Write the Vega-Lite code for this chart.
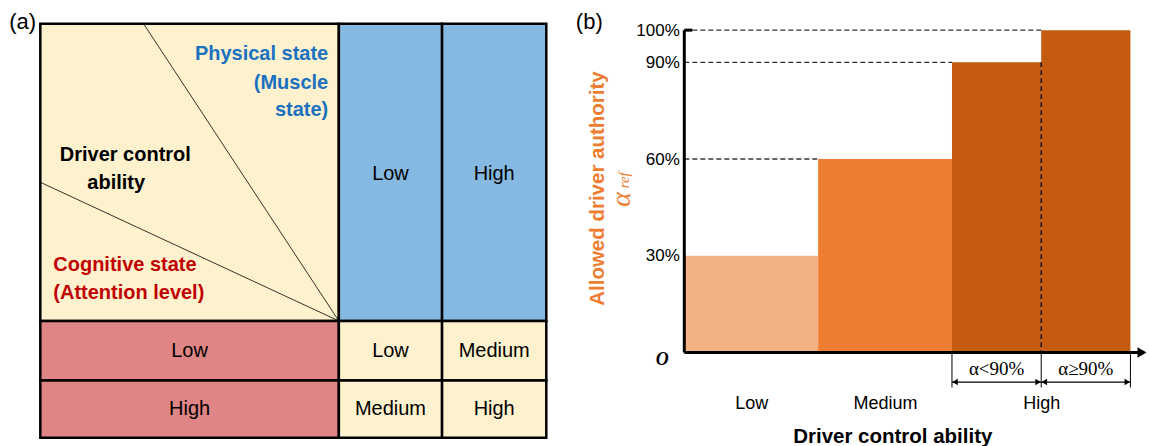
{
  "$schema": "https://vega.github.io/schema/vega-lite/v6.json",
  "background": "white",
  "padding": {"left": 8.3, "top": 10.7, "right": 0, "bottom": 0},
  "spacing": 138,
  "bounds": "flush",
  "resolve": {"scale": {"fill": "independent"}},
  "config": {
    "view": {"stroke": null},
    "font": "Liberation Sans",
    "axis": {"labelFont": "Liberation Sans", "titleFont": "Liberation Sans"}
  },
  "datasets": {
    "cellsA": [
      {"kind": "corner", "x": 0, "x2": 59, "y": 0, "y2": 71.8},
      {"kind": "physical", "x": 59, "x2": 79.4, "y": 0, "y2": 71.8},
      {"kind": "physical", "x": 79.4, "x2": 100, "y": 0, "y2": 71.8},
      {"kind": "cognitive", "x": 0, "x2": 59, "y": 71.8, "y2": 86.2},
      {"kind": "cognitive", "x": 0, "x2": 59, "y": 86.2, "y2": 100},
      {"kind": "ability", "x": 59, "x2": 79.4, "y": 71.8, "y2": 86.2},
      {"kind": "ability", "x": 79.4, "x2": 100, "y": 71.8, "y2": 86.2},
      {"kind": "ability", "x": 59, "x2": 79.4, "y": 86.2, "y2": 100},
      {"kind": "ability", "x": 79.4, "x2": 100, "y": 86.2, "y2": 100}
    ],
    "diagonals": [
      {"x": 20.4, "y": 0, "x2": 59, "y2": 71.8},
      {"x": 0, "y": 38.3, "x2": 59, "y2": 71.8}
    ],
    "physicalText": [
      {"x": 56.9, "y": 7.4, "t": "Physical state"},
      {"x": 56.9, "y": 14.4, "t": "(Muscle"},
      {"x": 56.9, "y": 20.9, "t": "state)"}
    ],
    "driverText": [
      {"x": 16.8, "y": 31.8, "t": "Driver control"},
      {"x": 15.0, "y": 38.6, "t": "ability"}
    ],
    "cognitiveText": [
      {"x": 2.57, "y": 58.4, "t": "Cognitive state"},
      {"x": 2.57, "y": 65.1, "t": "(Attention level)"}
    ],
    "cellText": [
      {"x": 69.2, "y": 36.2, "t": "Low"},
      {"x": 89.7, "y": 36.2, "t": "High"},
      {"x": 29.5, "y": 79.0, "t": "Low"},
      {"x": 69.2, "y": 79.0, "t": "Low"},
      {"x": 89.7, "y": 79.0, "t": "Medium"},
      {"x": 29.5, "y": 93.1, "t": "High"},
      {"x": 69.2, "y": 93.1, "t": "Medium"},
      {"x": 89.7, "y": 93.1, "t": "High"}
    ],
    "panelA": [{"x": -3.5, "y": -0.4, "t": "(a)"}],
    "bars": [
      {"cat": "Low", "x": 0, "x2": 1.5, "y": 30},
      {"cat": "Medium", "x": 1.5, "x2": 3, "y": 60},
      {"cat": "High (α<90%)", "x": 3, "x2": 4, "y": 90},
      {"cat": "High (α≥90%)", "x": 4, "x2": 5, "y": 100}
    ],
    "guides": [
      {"x": 0, "x2": 1.5, "y": 60},
      {"x": 0, "x2": 3, "y": 90},
      {"x": 0, "x2": 4, "y": 100}
    ],
    "split": [{"x": 4, "y": 90, "y2": 0}],
    "bracketTicks": [
      {"x": 3, "y": 0, "y2": -10.9},
      {"x": 4, "y": 0, "y2": -10.9},
      {"x": 5, "y": 0, "y2": -10.9}
    ],
    "spans": [
      {"x": 3, "x2": 4, "y": -9.2},
      {"x": 4, "x2": 5, "y": -9.2}
    ],
    "headsLeft": [{"x": 3.035, "y": -9.2}, {"x": 4.035, "y": -9.2}],
    "headsRight": [{"x": 3.965, "y": -9.2}, {"x": 4.965, "y": -9.2}],
    "xAxisLine": [{"x": 0, "x2": 5.1, "y": 0}],
    "xAxisHead": [{"x": 5.13, "y": 0}],
    "yAxisLine": [{"x": 0, "y": 0, "y2": 100}],
    "yAxisCap": [{"x": 0, "x2": 0.09, "y": 100}],
    "alphaLabels": [
      {"x": 3.5, "y": -5.3, "t": "α<90%"},
      {"x": 4.5, "y": -5.3, "t": "α≥90%"}
    ],
    "origin": [{"x": -0.247, "y": -2.5, "t": "O"}],
    "alphaSym": [{"x": -0.698, "y": 47.5, "t": "α"}],
    "alphaSub": [{"x": -0.68, "y": 53.4, "t": "ref"}],
    "panelB": [{"x": -1.065, "y": 102.5, "t": "(b)"}]
  },
  "hconcat": [
    {
      "width": 506,
      "height": 414,
      "encoding": {
        "x": {"field": "x", "type": "quantitative", "scale": {"domain": [0, 100], "nice": false, "zero": false}, "axis": null},
        "y": {"field": "y", "type": "quantitative", "scale": {"domain": [0, 100], "nice": false, "zero": false, "reverse": true}, "axis": null}
      },
      "layer": [
        {
          "data": {"name": "cellsA"},
          "mark": {"type": "rect", "stroke": "black", "strokeWidth": 2.5},
          "encoding": {
            "x2": {"field": "x2"},
            "y2": {"field": "y2"},
            "fill": {"field": "kind", "type": "nominal", "scale": {"domain": ["corner", "physical", "cognitive", "ability"], "range": ["#fef1cd", "#85b9e1", "#e08585", "#fef1cd"]}, "legend": null}
          }
        },
        {
          "data": {"name": "diagonals"},
          "mark": {"type": "rule", "color": "black", "strokeWidth": 0.8},
          "encoding": {"x2": {"field": "x2"}, "y2": {"field": "y2"}}
        },
        {
          "data": {"name": "physicalText"},
          "mark": {"type": "text", "align": "right", "baseline": "middle", "fontSize": 20, "fontWeight": "bold", "color": "#1b70c0"},
          "encoding": {"text": {"field": "t", "type": "nominal"}}
        },
        {
          "data": {"name": "driverText"},
          "mark": {"type": "text", "align": "center", "baseline": "middle", "fontSize": 20, "fontWeight": "bold", "color": "black"},
          "encoding": {"text": {"field": "t", "type": "nominal"}}
        },
        {
          "data": {"name": "cognitiveText"},
          "mark": {"type": "text", "align": "left", "baseline": "middle", "fontSize": 20, "fontWeight": "bold", "color": "#c00000"},
          "encoding": {"text": {"field": "t", "type": "nominal"}}
        },
        {
          "data": {"name": "cellText"},
          "mark": {"type": "text", "align": "center", "baseline": "middle", "fontSize": 20, "color": "black"},
          "encoding": {"text": {"field": "t", "type": "nominal"}}
        },
        {
          "data": {"name": "panelA"},
          "mark": {"type": "text", "align": "center", "baseline": "middle", "fontSize": 22, "color": "black"},
          "encoding": {"text": {"field": "t", "type": "nominal"}}
        }
      ]
    },
    {
      "width": 464,
      "height": 328.7,
      "encoding": {
        "x": {
          "field": "x", "type": "quantitative",
          "scale": {"domain": [0, 5.2], "nice": false, "zero": false},
          "axis": {
            "values": [0.75, 2.25, 4],
            "labelExpr": "datum.value < 1 ? 'Low' : datum.value < 3 ? 'Medium' : 'High'",
            "domain": false, "ticks": false, "tickSize": 0, "grid": false,
            "labelFontSize": 18, "labelPadding": 42, "labelColor": "black", "labelFlush": false,
            "title": "Driver control ability", "titleFontSize": 20.5, "titleFontWeight": "bold",
            "titleColor": "black", "titlePadding": 14, "titleX": 208
          }
        },
        "y": {
          "field": "y", "type": "quantitative",
          "scale": {"domain": [0, 102], "nice": false, "zero": false},
          "axis": {
            "values": [30, 60, 90, 100],
            "labelExpr": "datum.value + '%'",
            "domain": false, "ticks": false, "tickSize": 0, "grid": false,
            "labelFontSize": 17, "labelPadding": 5, "labelColor": "black", "labelOverlap": false,
            "title": "Allowed driver authority", "titleColor": "#ed7d31", "titleFontSize": 20.5,
            "titleFontWeight": "bold", "titlePadding": 28
          }
        }
      },
      "layer": [
        {
          "data": {"name": "bars"},
          "mark": {"type": "rect"},
          "encoding": {
            "x2": {"field": "x2"},
            "y2": {"datum": 0},
            "fill": {"field": "cat", "type": "nominal", "scale": {"domain": ["Low", "Medium", "High (α<90%)", "High (α≥90%)"], "range": ["#f4b183", "#ed7d31", "#c55a11", "#c55a11"]}, "legend": null}
          }
        },
        {
          "data": {"name": "guides"},
          "mark": {"type": "rule", "color": "#333333", "strokeWidth": 1.4, "strokeDash": [5, 3]},
          "encoding": {"x2": {"field": "x2"}}
        },
        {
          "data": {"name": "split"},
          "mark": {"type": "rule", "color": "#111111", "strokeWidth": 1.4, "strokeDash": [5, 3]},
          "encoding": {"y2": {"field": "y2"}}
        },
        {
          "data": {"name": "bracketTicks"},
          "mark": {"type": "rule", "color": "black", "strokeWidth": 1},
          "encoding": {"y2": {"field": "y2"}}
        },
        {
          "data": {"name": "spans"},
          "mark": {"type": "rule", "color": "black", "strokeWidth": 1.3},
          "encoding": {"x2": {"field": "x2"}}
        },
        {
          "data": {"name": "headsLeft"},
          "mark": {"type": "point", "shape": "triangle-left", "filled": true, "color": "black", "opacity": 1, "size": 40},
          "encoding": {}
        },
        {
          "data": {"name": "headsRight"},
          "mark": {"type": "point", "shape": "triangle-right", "filled": true, "color": "black", "opacity": 1, "size": 40},
          "encoding": {}
        },
        {
          "data": {"name": "xAxisLine"},
          "mark": {"type": "rule", "color": "black", "strokeWidth": 3},
          "encoding": {"x2": {"field": "x2"}}
        },
        {
          "data": {"name": "xAxisHead"},
          "mark": {"type": "point", "shape": "triangle-right", "filled": true, "color": "black", "opacity": 1, "size": 110},
          "encoding": {}
        },
        {
          "data": {"name": "yAxisLine"},
          "mark": {"type": "rule", "color": "black", "strokeWidth": 3},
          "encoding": {"y2": {"field": "y2"}}
        },
        {
          "data": {"name": "yAxisCap"},
          "mark": {"type": "rule", "color": "black", "strokeWidth": 3},
          "encoding": {"x2": {"field": "x2"}}
        },
        {
          "data": {"name": "alphaLabels"},
          "mark": {"type": "text", "align": "center", "baseline": "middle", "font": "Liberation Serif", "fontSize": 19, "color": "black"},
          "encoding": {"text": {"field": "t", "type": "nominal"}}
        },
        {
          "data": {"name": "origin"},
          "mark": {"type": "text", "align": "center", "baseline": "middle", "font": "Liberation Serif", "fontSize": 18, "fontStyle": "italic", "fontWeight": "bold", "color": "black"},
          "encoding": {"text": {"field": "t", "type": "nominal"}}
        },
        {
          "data": {"name": "alphaSym"},
          "mark": {"type": "text", "align": "center", "baseline": "middle", "angle": 270, "font": "Liberation Serif", "fontSize": 28, "fontStyle": "italic", "color": "#ed7d31"},
          "encoding": {"text": {"field": "t", "type": "nominal"}}
        },
        {
          "data": {"name": "alphaSub"},
          "mark": {"type": "text", "align": "center", "baseline": "middle", "angle": 270, "font": "Liberation Serif", "fontSize": 15, "fontStyle": "italic", "color": "#ed7d31"},
          "encoding": {"text": {"field": "t", "type": "nominal"}}
        },
        {
          "data": {"name": "panelB"},
          "mark": {"type": "text", "align": "center", "baseline": "middle", "fontSize": 22, "color": "black"},
          "encoding": {"text": {"field": "t", "type": "nominal"}}
        }
      ]
    }
  ]
}
